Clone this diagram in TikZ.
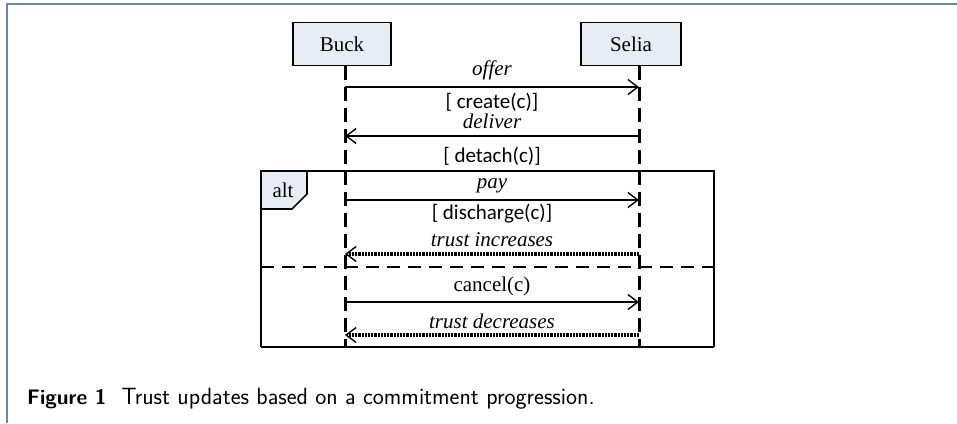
\documentclass[tikz,border=0pt]{standalone}
\usepackage{fontspec}
\setmainfont{Liberation Serif}
\newfontfamily\calib{Carlito}
\usetikzlibrary{arrows.meta}
\definecolor{boxfill}{RGB}{232,236,244}
\definecolor{pageborder}{RGB}{105,135,168}
\tikzset{
  actor/.style={draw=black, line width=1.6pt, fill=boxfill, minimum height=43pt, inner sep=0pt, font=\fontsize{21}{25}\selectfont},
  lifeline/.style={line width=3pt, dash pattern=on 14pt off 7pt},
  msg/.style={line width=1.4pt, -{Straight Barb[length=10pt,width=15pt,line width=1.4pt]}},
  reply/.style={line width=3.2pt, dash pattern=on 2.2pt off 1pt, -{Straight Barb[length=10pt,width=15pt,line width=1.4pt]}},
  lbl/.style={font=\fontsize{21}{25}\selectfont\itshape, inner sep=0pt},
  lblr/.style={font=\fontsize{21}{25}\selectfont, inner sep=0pt},
  guard/.style={font=\fontsize{21}{25}\selectfont\calib, inner sep=0pt},
  frameline/.style={line width=1.6pt},
}
\begin{document}
\begin{tikzpicture}[x=1pt,y=-1pt]
\useasboundingbox (0,0) rectangle (957,423);
% page border
\draw[pageborder, line width=2pt] (7,423) -- (7,4) -- (957,4);
% actors
\node[actor, minimum width=98pt] (buck) at (342,44) {Buck};
\node[actor, minimum width=100pt] (selia) at (631,44) {Selia};
% lifeline coordinates
\coordinate (bT) at (345,66);
\coordinate (bB) at (345,347);
\coordinate (sT) at (639,66);
\coordinate (sB) at (639,347);
% alt frame
\draw[fill=boxfill, frameline] (261,171) -- (307,171) -- (307,194) -- (292,209) -- (261,209) -- cycle;
\node[lblr] (alt) at (283,190) {alt};
\draw[frameline] (261,347) -- (261,171) -- (714,171) -- (714,347);
\draw[line width=2.6pt] (261,347) -- (714,347);
\coordinate (sepL) at (261,267);
\coordinate (sepR) at (714,267);
\draw[line width=2.4pt, dash pattern=on 13pt off 8pt] (sepL) -- (sepR);
% lifelines
\draw[lifeline] (bT) -- (bB);
\draw[lifeline] (sT) -- (sB);
% messages
\coordinate (b1) at (345,87);  \coordinate (s1) at (639,87);
\coordinate (b2) at (345,136); \coordinate (s2) at (639,136);
\coordinate (b3) at (345,200); \coordinate (s3) at (639,200);
\coordinate (b4) at (345,254); \coordinate (s4) at (639,254);
\coordinate (b5) at (345,302); \coordinate (s5) at (639,302);
\coordinate (b6) at (345,335); \coordinate (s6) at (639,335);
\draw[msg] (b1) -- (s1);
\draw[msg] (s2) -- (b2);
\draw[msg] (b3) -- (s3);
\draw[reply] (s4) -- (b4);
\draw[msg] (b5) -- (s5);
\draw[reply] (s6) -- (b6);
% labels
\node[lbl] (l1) at (492,70) {offer};
\node[guard] (g1) at (492,102) {[ create(c)]};
\node[lbl] (l2) at (492,121) {deliver};
\node[guard] (g2) at (492,156) {[ detach(c)]};
\node[lbl] (l3) at (492,186) {pay};
\node[guard] (g3) at (492,214) {[ discharge(c)]};
\node[lbl] (l4) at (492,240) {trust increases};
\node[lblr] (l5) at (492,286) {cancel(c)};
\node[lbl] (l6) at (492,321) {trust decreases};
% caption
\node[anchor=base west, inner sep=0pt, font=\fontsize{21}{24}\selectfont\sffamily] (cap) at (27,404) {\textbf{Figure 1}\hspace{15pt}{\fontsize{23.5}{26}\selectfont\addfontfeatures{LetterSpace=8}Trust updates based on a commitment progression.}};
\end{tikzpicture}
\end{document}
